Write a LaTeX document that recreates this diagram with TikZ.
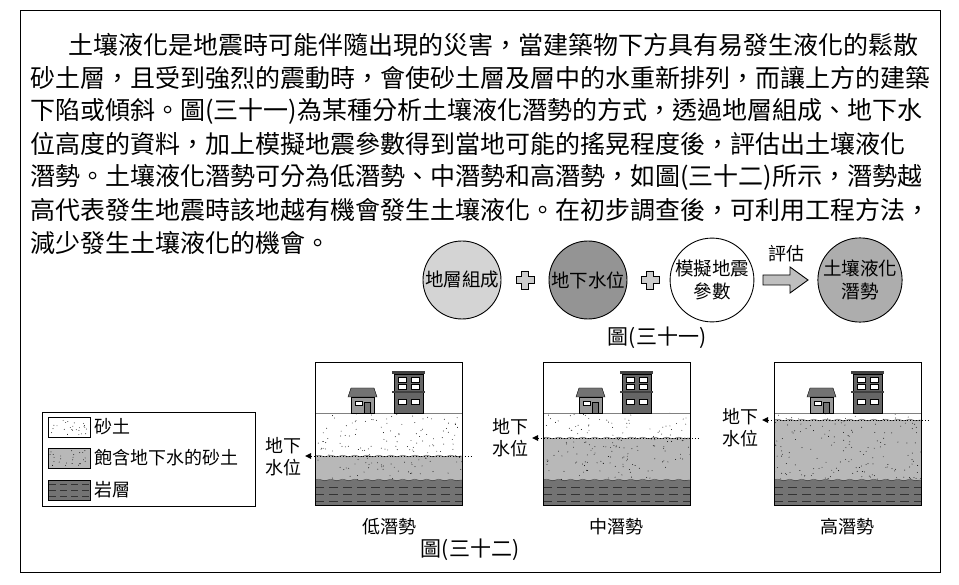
\documentclass[tikz,border=0pt]{standalone}
\usepackage{fontspec}
\setmainfont{Liberation Serif}
\newfontfamily\cjk{Noto Sans CJK TC}
\usetikzlibrary{arrows.meta,decorations.pathmorphing}
\begin{document}
\begin{tikzpicture}[x=1pt,y=-1pt,
  para/.style={anchor=west,inner sep=0,font=\cjk\fontsize{25}{25}\selectfont},
  circ/.style={circle,draw,line width=0.9pt,minimum size=78pt,inner sep=0,align=center,font=\cjk\fontsize{18.5}{23}\selectfont},
  capt/.style={inner sep=0,font=\cjk\fontsize{18}{20}\selectfont},
  lbl/.style={inner sep=0,align=center,font=\cjk\fontsize{18}{22}\selectfont},
  wav/.style={decorate,decoration={snake,amplitude=0.8pt,segment length=12pt}},
  wl/.style={dotted,line width=0.9pt,{Triangle[length=6pt,width=6pt,line width=0pt]}-}]
\useasboundingbox (0,0) rectangle (959,585);
\draw[line width=0.8pt] (20,10) rectangle (940,572);
\node[para] (l1) at (68,45) {土壤液化是地震時可能伴隨出現的災害，當建築物下方具有易發生液化的鬆散};
\node[para] (l2) at (30,78) {砂土層，且受到強烈的震動時，會使砂土層及層中的水重新排列，而讓上方的建築};
\node[para] (l3) at (30,111) {下陷或傾斜。圖(三十一)為某種分析土壤液化潛勢的方式，透過地層組成、地下水};
\node[para] (l4) at (30,144) {位高度的資料，加上模擬地震參數得到當地可能的搖晃程度後，評估出土壤液化};
\node[para] (l5) at (30,177) {潛勢。土壤液化潛勢可分為低潛勢、中潛勢和高潛勢，如圖(三十二)所示，潛勢越};
\node[para] (l6) at (30,210) {高代表發生地震時該地越有機會發生土壤液化。在初步調查後，可利用工程方法，};
\node[para] (l7) at (30,243) {減少發生土壤液化的機會。};
% figure 31
\node[circ,fill=black!17] (c1) at (462,280) {地層組成};
\node[circ,fill=black!42] (c2) at (588,280) {地下水位};
\node[circ,fill=white] (c3) at (712,280) {模擬地震\\參數};
\node[circ,fill=black!32] (c4) at (860,280) {土壤液化\\潛勢};
\foreach \px/\nm in {525/p1,650/p2}{
  \draw[line width=0.9pt,fill=black!20] (\px-3.5,271)--(\px+3.5,271)--(\px+3.5,276.5)--(\px+9,276.5)--(\px+9,283.5)--(\px+3.5,283.5)--(\px+3.5,289)--(\px-3.5,289)--(\px-3.5,283.5)--(\px-9,283.5)--(\px-9,276.5)--(\px-3.5,276.5)--cycle;
  \coordinate (\nm) at (\px,280);}
\draw[line width=0.9pt,fill=black!25] (763,275)--(790,275)--(790,267)--(808,280)--(790,293)--(790,285)--(763,285)--cycle;
\node[lbl] (ev) at (786,254) {評估};
\node[capt,font=\cjk\fontsize{21}{22}\selectfont] (f31) at (657,338) {圖(三十一)};
% legend
\draw[line width=0.8pt] (42,412) rectangle (255,506);
\node[draw,fill=white,minimum width=42pt,minimum height=20pt,inner sep=0] (s1) at (69,427) {};
\node[draw,fill=black!28,minimum width=42pt,minimum height=20pt,inner sep=0] (s2) at (69,458) {};
\node[draw,fill=black!55,minimum width=42pt,minimum height=20pt,inner sep=0] (s3) at (69,490) {};
\pgfmathsetseed{3}
\foreach \s in {427,458}{\foreach \i in {1,...,25}{\fill (50+rnd*38,\s-8+rnd*16) circle (0.45);}}
\foreach \yy in {484,490,496}{\draw[black!80,dash pattern=on 7pt off 4pt] (49,\yy)--(89,\yy);}
\node[lbl,anchor=west] (t1) at (94,427) {砂土};
\node[lbl,anchor=west] (t2) at (94,458) {飽含地下水的砂土};
\node[lbl,anchor=west] (t3) at (94,490) {岩層};
% panels
\foreach \X/\W/\nm/\cx/\lx/\ly in {315/456/低潛勢/389/283/457, 543/438/中潛勢/616/510/438, 774/420/高潛勢/847/740/428}{
  \begin{scope}
  \clip (\X,363) rectangle (\X+147,505);
  \fill[white] (\X,363) rectangle (\X+147,413);
  \fill[black!28] (\X,\W) rectangle (\X+147,480);
  \fill[black!55] (\X,480) rectangle (\X+147,505);
  \foreach \i in {1,...,160}{\fill (\X+rnd*147,413+rnd*67) circle (0.45);}
  \foreach \yy in {487,494,501}{\draw[black!80,dash pattern=on 9pt off 5pt] (\X,\yy)--(\X+147,\yy);}
  \draw[wav,black!80] (\X,\W)--(\X+147,\W);
  \draw[wav,black!80] (\X,480)--(\X+147,480);
  \draw[black!50] (\X,413)--(\X+147,413);
  % house
  \draw[fill=black!40] (\X+36,413) rectangle (\X+59,397);
  \draw[fill=black!55] (\X+33,397)--(\X+62,397)--(\X+59,388)--(\X+36,388)--cycle;
  \draw[fill=white] (\X+40,401) rectangle (\X+47,405);
  \draw[fill=black!55] (\X+49,402) rectangle (\X+55,413);
  % building
  \draw[fill=black!60] (\X+79,413) rectangle (\X+108,374);
  \fill[black!75] (\X+77,371) rectangle (\X+110,374);
  \fill[black!75] (\X+77,391) rectangle (\X+110,393);
  \foreach \wx in {83,96}{\foreach \wy in {377,384,399}{\draw[fill=white] (\X+\wx,\wy) rectangle (\X+\wx+8,\wy+5);}}
  \end{scope}
  \draw[line width=1pt] (\X,363) rectangle (\X+147,505);
  \node[capt] (cap\X) at (\cx,527) {\nm};
  \node[lbl] (wl\X) at (\lx,\ly) {地下\\水位};
  \coordinate (we\X) at (\X+156,\W);
  \draw[wl] (wl\X.east |- 0,\W) ++(4,0) coordinate (ws\X) -- (we\X);
}
\node[capt,font=\cjk\fontsize{21}{22}\selectfont] (f32) at (470,550) {圖(三十二)};
\end{tikzpicture}
\end{document}
